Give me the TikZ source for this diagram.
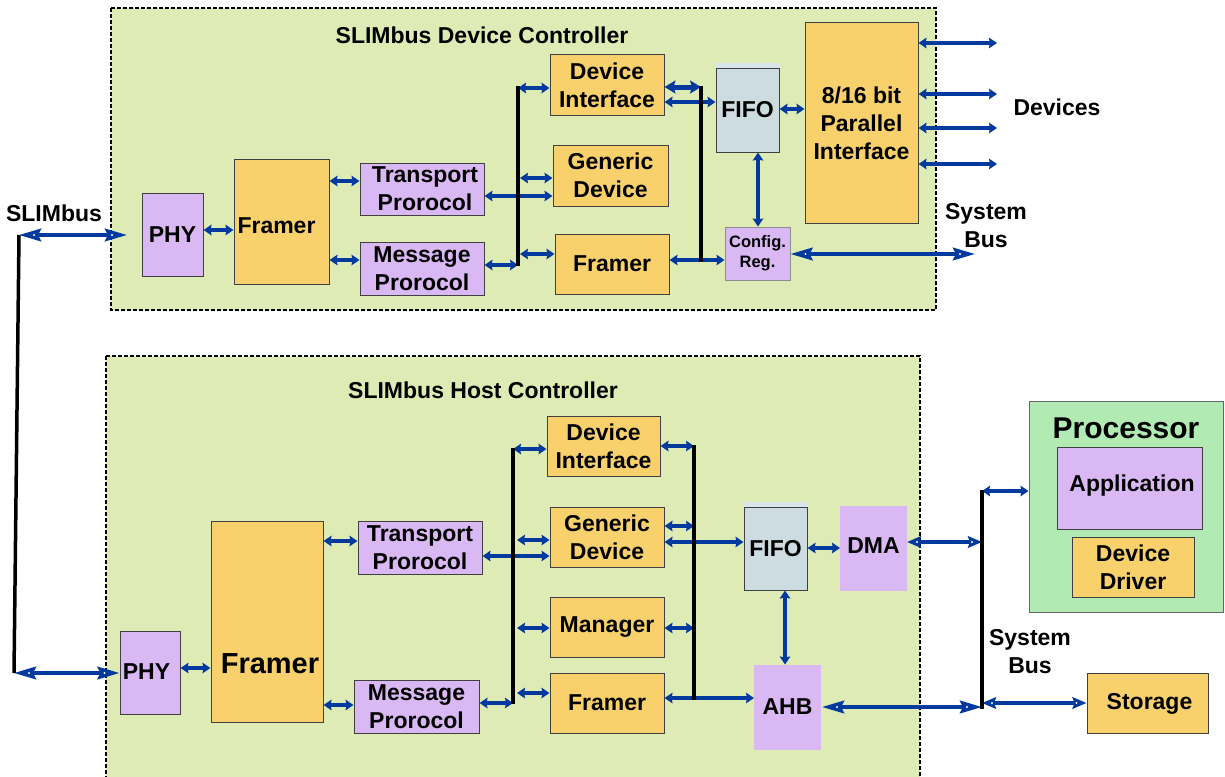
\documentclass[tikz,border=0pt]{standalone}
\usepackage{fontspec}
\setmainfont{Liberation Sans}
\usetikzlibrary{arrows.meta,decorations.markings}

\definecolor{panel}{HTML}{DFEBB4}
\definecolor{lilac}{HTML}{D9B8F3}
\definecolor{amber}{HTML}{F8D16C}
\definecolor{fifogrey}{HTML}{CCDCE0}
\definecolor{fifotop}{HTML}{D8E6EC}
\definecolor{procgreen}{HTML}{B2EAB4}
\definecolor{linkblue}{HTML}{003A9E}

\newcommand\lblfont{\fontsize{23}{28}\selectfont\bfseries}
\newcommand\smallfont{\fontsize{16.5}{20}\selectfont\bfseries}

\begin{document}
\begin{tikzpicture}[x=1pt,y=-1pt,
  panelbox/.style={draw=black, fill=panel, line width=2pt, dash pattern=on 4pt off 2pt},
  box/.style={draw=black!75, line width=1pt, inner sep=0pt, align=center, font=\lblfont},
  purplebox/.style={box, fill=lilac},
  orangebox/.style={box, fill=amber},
  fifobox/.style={box, fill=fifogrey},
  plainlilac/.style={box, draw=lilac, fill=lilac},
  label/.style={inner sep=0pt, align=center, font=\lblfont},
  busline/.style={draw=black, line width=3.5pt},
  arr/.style={draw=linkblue, line width=3.2pt,
    {Stealth[length=8pt,width=10.5pt,inset=1pt]}-{Stealth[length=8pt,width=10.5pt,inset=1pt]}},
  thickarr/.style={draw=linkblue, line width=5pt,
    {Stealth[length=11pt,width=13pt,inset=2pt]}-{Stealth[length=11pt,width=13pt,inset=2pt]}},
  headdots/.style={postaction={decorate, decoration={markings,
    mark=at position #1 with {\fill[white] (0,0) circle (1.1pt);},
    mark=at position -#1 with {\fill[white] (0,0) circle (1.1pt);}}}},
  midarr/.style={draw=linkblue, line width=3.5pt,
    {Stealth[length=14pt,width=11.5pt,inset=2pt]}-{Stealth[length=14pt,width=11.5pt,inset=2pt]},
    headdots=10pt},
  bigarr/.style={draw=linkblue, line width=3.8pt,
    {Stealth[length=22pt,width=12.5pt,inset=3pt]}-{Stealth[length=22pt,width=12.5pt,inset=3pt]},
    headdots=15pt},
]
\useasboundingbox (0,0) rectangle (1225,776);
\fill[white] (0,0) rectangle (1225,776);

% ---------- controller panels ----------
\draw[panelbox] (111,8) rectangle (936,310);
\node[label] (titleT) at (482,35) {SLIMbus Device Controller};
\draw[panelbox] (106,356) rectangle (920,795);
\node[label] (titleB) at (483,390) {SLIMbus Host Controller};

% ---------- device controller blocks ----------
\node[purplebox, minimum width=61pt, minimum height=83pt] (phyT) at (172.5,234.5) {PHY};
\node[orangebox, minimum width=95pt, minimum height=125pt] (frT) at (281.5,221.5) {};
\node[label] (frTtxt) at (276.5,226) {Framer};
\node[purplebox, minimum width=124pt, minimum height=52pt] (tpT) at (422,189) {\hspace*{6pt}Transport\\\hspace*{6pt}Prorocol};
\node[purplebox, minimum width=124pt, minimum height=53pt] (mpT) at (422,268.5) {Message\\Prorocol};
\node[orangebox, minimum width=114pt, minimum height=60pt] (diT) at (607,85) {Device\\Interface};
\node[orangebox, minimum width=115pt, minimum height=61pt] (gdT) at (610.5,175.5) {Generic\\Device};
\node[orangebox, minimum width=114pt, minimum height=60pt] (fmT) at (612,264) {Framer};
\fill[fifotop] (716,63) rectangle (779,68);
\node[fifobox, minimum width=63pt, minimum height=84pt] (fifoT) at (747.5,110) {FIFO};
\node[orangebox, minimum width=113pt, minimum height=200pt] (parT) at (861.5,123) {8/16 bit\\Parallel\\Interface};
\node[purplebox, draw=black!45, font=\smallfont, minimum width=65pt, minimum height=53pt] (cfgT) at (757.5,253.5) {Config.\\Reg.};

% ---------- host controller blocks ----------
\node[purplebox, minimum width=60pt, minimum height=83pt] (phyB) at (150,672.5) {};
\node[label] (phyBtxt) at (146.5,672) {PHY};
\node[orangebox, minimum width=112pt, minimum height=201pt] (frB) at (267,621.5) {};
\node[label, font=\fontsize{29}{34}\selectfont\bfseries] (frBtxt) at (270,664) {Framer};
\node[purplebox, minimum width=124pt, minimum height=53pt] (tpB) at (420,547.5) {Transport\\Prorocol};
\node[purplebox, minimum width=125pt, minimum height=53pt] (mpB) at (416.5,706.5) {Message\\Prorocol};
\node[orangebox, minimum width=113pt, minimum height=60pt] (diB) at (603.5,446) {Device\\Interface};
\node[orangebox, minimum width=114pt, minimum height=60pt] (gdB) at (607,537) {Generic\\Device};
\node[orangebox, minimum width=114pt, minimum height=60pt] (mgB) at (607,627) {Manager};
\node[orangebox, minimum width=114pt, minimum height=60pt] (fmB) at (607,703) {Framer};
\fill[fifotop] (744,502) rectangle (807,507);
\node[fifobox, minimum width=63pt, minimum height=83pt] (fifoB) at (775.5,548.5) {FIFO};
\node[plainlilac, minimum width=66pt, minimum height=84pt] (dma) at (873.5,548.5) {};
\node[label] (dmatxt) at (873.5,546) {DMA};
\node[plainlilac, minimum width=66pt, minimum height=84pt] (ahb) at (787.5,707) {AHB};

% ---------- processor and storage ----------
\node[box, fill=procgreen, draw=black!60, minimum width=194pt, minimum height=211pt] (proc) at (1126,506.5) {};
\node[label, font=\fontsize{30}{34}\selectfont\bfseries] (procT) at (1126,428) {Processor};
\node[purplebox, minimum width=145pt, minimum height=82pt] (app) at (1129.5,488) {};
\node[label] (apptxt) at (1132,486) {Application};
\node[orangebox, minimum width=122pt, minimum height=60pt] (dd) at (1133,567) {Device\\Driver};
\node[orangebox, minimum width=121pt, minimum height=60pt] (sto) at (1147.5,703) {};
\node[label] (stotxt) at (1149.5,704) {Storage};

% ---------- free labels ----------
\node[label] (slimL) at (54,213) {SLIMbus};
\node[label] (devL) at (1057,107) {Devices};
\node[label] (sysT) at (986,226) {System\\Bus};
\node[label] (sysB) at (1030,652) {System\\Bus};

% ---------- bus rails and free ends ----------
\coordinate (sT) at (19,235);
\coordinate (sB) at (14,673);
\coordinate (sEnd) at (127,235);
\coordinate (bLt) at (518,86);
\coordinate (bLb) at (518,266);
\coordinate (bRt) at (701,86);
\coordinate (bRb) at (701,262);
\coordinate (cfgEnd) at (975,254);
\coordinate (devEnd) at (997,0);
\coordinate (hLt) at (513,448);
\coordinate (hLb) at (513,704);
\coordinate (hRt) at (694,445);
\coordinate (hRb) at (694,700);
\coordinate (sysTop) at (982,490);
\coordinate (sysBot) at (982,709);

% ---------- SLIMbus link ----------
\draw[bigarr] (sT) -- (sEnd);
\draw[bigarr] (sB) -- (phyB.west |- sB);

% ---------- device controller links ----------
\draw[arr] (phyT.east |- 0,230) -- (frT.west |- 0,230);
\draw[arr] (frT.east |- 0,181) -- (tpT.west |- 0,181);
\draw[arr] (frT.east |- 0,260) -- (mpT.west |- 0,260);
\draw[arr] (mpT.east |- 0,265) -- (bLt |- 0,265);
\draw[arr] (bLt |- 0,88) -- (diT.west |- 0,88);
\draw[arr] ([xshift=2pt]bLt |- 0,178) -- (gdT.west |- 0,178);
\draw[arr] (tpT.east |- 0,196) -- (gdT.west |- 0,196);
\draw[arr] ([xshift=2pt]bLt |- 0,254) -- (fmT.west |- 0,254);
\draw[thickarr] (diT.east |- 0,87) -- (bRt |- 0,87);
\draw[arr] (diT.east |- 0,102) -- (fifoT.west |- 0,102);
\draw[arr] (fmT.east |- 0,260) -- (cfgT.west |- 0,260);
\draw[arr] (fifoT.east |- 0,109) -- (parT.west |- 0,109);
\draw[arr] (fifoT.south -| 758,0) -- (cfgT.north -| 758,0);
\draw[bigarr] (cfgT.east |- cfgEnd) -- (cfgEnd);
\foreach \yy in {43,94,128,164}
  \draw[arr] (parT.east |- 0,\yy) -- (devEnd |- 0,\yy);

% ---------- host controller links ----------
\draw[arr] (phyB.east |- 0,668) -- (frB.west |- 0,668);
\draw[arr] (frB.east |- 0,541) -- (tpB.west |- 0,541);
\draw[arr] (frB.east |- 0,705) -- (mpB.west |- 0,705);
\draw[arr] (mpB.east |- 0,703) -- (hLt |- 0,703);
\draw[arr] (hLt |- 0,449) -- (diB.west |- 0,449);
\draw[arr] ([xshift=4pt]hLt |- 0,540) -- (gdB.west |- 0,540);
\draw[arr] (tpB.east |- 0,556) -- (gdB.west |- 0,556);
\draw[arr] ([xshift=4pt]hLt |- 0,628) -- (mgB.west |- 0,628);
\draw[arr] ([xshift=4pt]hLt |- 0,693) -- (fmB.west |- 0,693);
\draw[arr] (diB.east |- 0,446) -- (hRt |- 0,446);
\draw[arr] (gdB.east |- 0,526) -- (hRt |- 0,526);
\draw[arr] (gdB.east |- 0,542) -- (fifoB.west |- 0,542);
\draw[arr] (mgB.east |- 0,628) -- (hRt |- 0,628);
\draw[arr] (fmB.east |- 0,698) -- (ahb.west |- 0,698);
\draw[arr] (fifoB.east |- 0,548) -- (dma.west |- 0,548);
\draw[arr] (fifoB.south -| 785,0) -- (ahb.north -| 785,0);

% ---------- system bus links ----------
\draw[midarr] (dma.east |- 0,542) -- (sysTop |- 0,542);
\draw[bigarr] ([xshift=1pt]ahb.east |- 0,707) -- (sysTop |- 0,707);
\draw[arr] (sysTop |- 0,491) -- (proc.west |- 0,491);
\draw[midarr] (sysTop |- 0,703) -- (sto.west |- 0,703);

% ---------- black bus rails ----------
\draw[busline] (sT) -- (sB);
\draw[busline] (bLt) -- (bLb);
\draw[busline] (bRt) -- (bRb);
\draw[busline] (hLt) -- (hLb);
\draw[busline] (hRt) -- (hRb);
\draw[busline] (sysTop) -- (sysBot);
\end{tikzpicture}
\end{document}
